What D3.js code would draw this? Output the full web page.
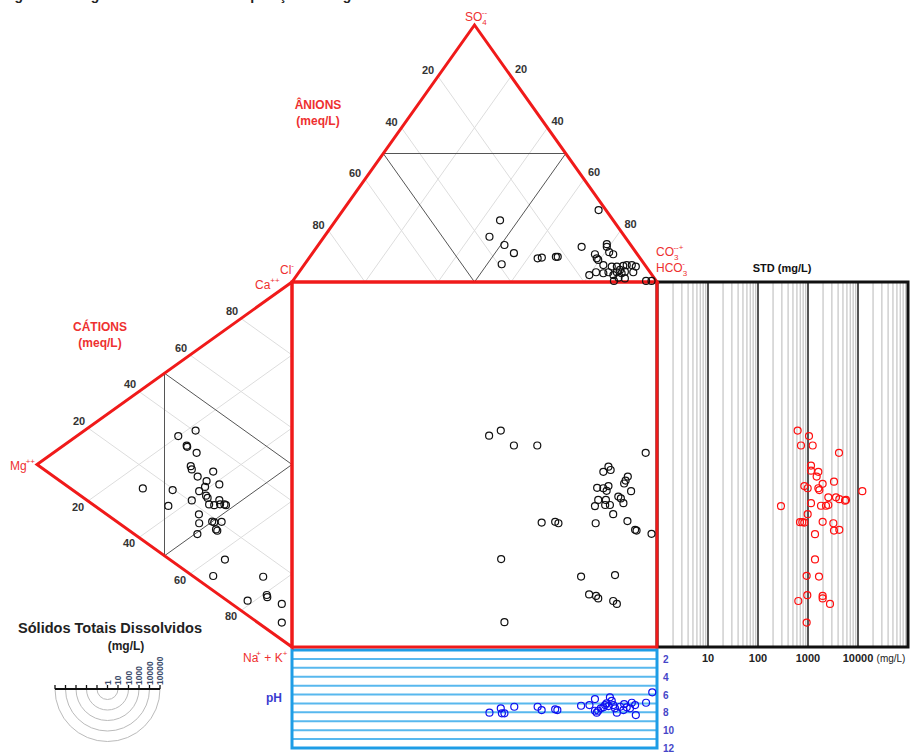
<!DOCTYPE html>
<html>
<head>
<meta charset="utf-8">
<script src="https://cdn.jsdelivr.net/npm/d3@7"></script>
<style>
  body { margin: 0; background: #fff; }
  svg  { display: block; font-family: "Liberation Sans", Arial, sans-serif; }
</style>
</head>
<body>
<svg id="chart" width="923" height="754"></svg>
<script>
/* ── DATA ───────────────────────────────────────────────────────────────────── */
const PCT_TICKS  = [20, 40, 60, 80];
const TDS_TICKS  = [10, 100, 1000, 10000];
const PH_TICKS   = [2, 4, 6, 8, 10, 12];
const PH_LINES   = [2, 3, 4, 5, 6, 7, 8, 9, 10, 11];
const LEGEND_TDS = [1, 10, 100, 1000, 10000, 100000];

// anion triangle: [SO4 %, HCO3 %]  (Cl = rest)
const anionPts = [
  [28,70],[24,45],[17.6,45.3],[14.4,51],[11.2,55.2],[6.9,54],[9.2,62.7],[9.5,63.7],
  [9.8,67.4],[9.8,67.9],[13.7,72.5],[14.7,78.9],[13.7,79.4],[11.6,81.1],[10.8,82.6],
  [10.8,77.6],[9.2,78.9],[8.6,79.6],[6.6,82],[6,84.6],[6,86],[6.3,87.6],[6.6,88.4],
  [6.6,89.8],[6,91.2],[4.7,87.5],[3.8,87.1],[3.4,88.6],[4,89.2],[3.8,91.6],[3.8,81.4],
  [2.7,80.1],[3.4,83.6],[3.8,84.8],[2.7,86.7],[1.7,88.6],[1.4,90.5],[0.4,88],
  [0.4,96.8],[0.4,98.3]
];

// cation triangle: [Mg %, Na+K %]  (Ca = rest)
const cationPts = [
  [37.8,21.8],[44.6,19.9],[41.3,24.2],[41.1,24.6],[37.4,28.1],[39.7,30.6],[39.3,31.7],
  [37,34.8],[30.9,36.5],[33.5,37.8],[34.1,39.1],[28.5,41.2],[36.4,39.1],[33.7,41.7],
  [33.1,42.6],[58.5,27.3],[46.8,33.6],[39.3,40.2],[48.5,37.1],[32.5,44.7],[30.5,45.9],
  [28.5,45.5],[28.2,46.8],[26.5,47.7],[25.9,48.2],[36.5,45.4],[36.4,47.9],[31.3,50],
  [30.5,50.6],[27.6,51.9],[29.3,53.5],[29.8,52.9],[37.1,50.5],[26.3,62.9],[30.9,65.1],
  [11.3,75.1],[17.4,78.6],[9.9,80.8],[9.7,81.5],[4,86.2],[4,91.3]
];

// central square: [anion axis %, cation axis %]
const squarePts = [
  [54,42.1],[57.2,40.7],[60.8,44.8],[67.2,44.8],[96.9,46.8],[86.7,50.6],[87.3,51.5],
  [85.3,52],[92,53.3],[91.4,54.4],[91,55.2],[92.9,57.3],[83.6,56.4],[85.3,56.5],
  [86.7,55.9],[86.2,57.2],[89.4,58.8],[90.1,59.3],[90.8,60.6],[83.9,59.7],[86,59.7],
  [83,61.4],[85.8,61.1],[87.1,61.1],[88,63.6],[68.4,65.9],[72.1,65.7],[73,66.1],
  [83.2,66.1],[91.9,65.5],[94,67.9],[94.4,68.1],[98.5,69],[57.3,75.9],[79.2,80.7],
  [88.5,80.3],[81.4,85.6],[83.3,86],[83.9,86.7],[88,87.4],[89,88.2],[58.2,93.2]
];

// STD panel: [cation axis %, STD mg/L]
const stdPts = [
  [40.7,621],[42.2,1047],[44.8,724],[44.8,1240],[46.8,4169],[50.3,1148],[51.7,1148],
  [52,1610],[53.3,1490],[54.7,3311],[55.3,1963],[55.9,845],[56.5,985],[56.5,1610],
  [57,1686],[57.3,12200],[59,2551],[59,3631],[59.5,4233],[59.9,5500],[59.7,5750],
  [61.4,288],[60.6,1148],[61.3,1820],[61.3,2290],[61.1,2551],[63.6,985],[65.8,692],
  [65.8,769],[65.9,845],[65.7,1963],[66.1,3213],[68.1,3311],[67.9,4233],[69.1,1380],
  [76,1380],[80.5,940],[80.7,1660],[87.4,640],[85.8,968],[86,1963],[86.7,1963],
  [88.2,2754],[93.3,940]
];

// pH panel: [anion axis %, pH]
const phPts = [
  [54.1,8.04],[57.2,7.55],[57.5,8.11],[58.2,8.11],[60.9,7.37],[67.3,7.37],[68.4,7.74],
  [72.1,7.66],[72.7,7.74],[79.2,7.26],[81.5,7.18],[83,6.51],[83.5,8.04],[83.9,7.82],
  [84.6,7.55],[85.8,7.18],[87.1,6.31],[87.6,6.7],[86.2,6.99],[88,7.18],[89,8.04],
  [89.9,7.37],[91,7.07],[91.7,7.44],[93.1,6.92],[94,7.18],[94.2,8.3],[97,6.92],
  [98.7,5.75],[85.3,7.44],[86.7,7.29],[88.5,7.55],[90.8,7.74],[83,7.82],[92.6,7.55]
];

/* ── CONSTANTS ──────────────────────────────────────────────────────────────── */
const RED      = '#f01a1a';
const RED_TXT  = '#ee3030';
const BLUE     = '#1e9de6';
const GRID     = '#dddddd';
const INNER    = '#555555';

/* ── SCALES ─────────────────────────────────────────────────────────────────── */
const ax    = d3.scaleLinear([0, 100], [292, 657]);   // anion axis (square x)
const so4Y  = d3.scaleLinear([0, 100], [282, 25]);    // SO4 height
const cy    = d3.scaleLinear([0, 100], [282, 647]);   // cation axis (square y)
const mgX   = d3.scaleLinear([0, 100], [292, 37]);    // Mg depth
const tdsX  = d3.scaleLog([1, 100000], [658, 908]);
const phY   = d3.scaleLinear([1, 12], [650, 748]);
const legR  = d3.scaleLog([1, 100000], [0, 52.5]);

function anionXY(so4, hco3) { return [ax(hco3 + so4 / 2), so4Y(so4)]; }
function cationXY(mg, na)   { return [mgX(mg), cy(na + mg / 2)]; }

const svg = d3.select('#chart');
const line = d3.line();

/* ── HELPERS ────────────────────────────────────────────────────────────────── */
function ionText(x, y, parts, opts = {}) {
  const t = svg.append('text')
    .attr('x', x).attr('y', y)
    .attr('fill', opts.fill || RED_TXT)
    .attr('font-size', opts.size || 12);
  let cur = 0;
  parts.forEach(([s, kind, dx]) => {
    const shift = kind === 'sub' ? 4 : kind === 'sup' ? -6 : 0;
    t.append('tspan')
      .attr('dy', shift - cur)
      .attr('dx', dx || 0)
      .attr('font-size', kind === 'n' ? (opts.size || 12) : 8)
      .text(s);
    cur = shift;
  });
  return t;
}

function tickLabel(x, y, txt) {
  svg.append('text')
    .attr('x', x).attr('y', y)
    .attr('text-anchor', 'middle').attr('dominant-baseline', 'middle')
    .attr('font-size', 11).attr('font-weight', 'bold').attr('fill', '#333')
    .text(txt);
}

function circles(data, xy, color) {
  svg.append('g').selectAll('circle')
    .data(data)
    .join('circle')
    .attr('cx', d => xy(d)[0])
    .attr('cy', d => xy(d)[1])
    .attr('r', 3.5)
    .attr('fill', 'none')
    .attr('stroke', color)
    .attr('stroke-width', 1.2);
}

/* ── CUT-OFF CAPTION (only descenders show in the reference) ────────────────── */
svg.append('text').attr('x', 2).attr('y', 0)
  .attr('font-size', 14).attr('font-weight', 'bold').attr('fill', '#222')
  .text('Figura 4 - Diagrama de Durov da composição das águas');

/* ── STD PANEL ──────────────────────────────────────────────────────────────── */
const stdG = svg.append('g');
d3.range(0, 5).forEach(dec => {
  d3.range(1, 10).forEach(k => {
    const v = k * Math.pow(10, dec);
    const major = k === 1 && dec > 0;
    stdG.append('line')
      .attr('x1', tdsX(v)).attr('x2', tdsX(v))
      .attr('y1', cy(0)).attr('y2', cy(100))
      .attr('stroke', major ? '#555' : '#c8c8c8')
      .attr('stroke-width', major ? 2 : 1.3);
  });
});
stdG.append('rect')
  .attr('x', 657).attr('y', cy(0))
  .attr('width', tdsX(100000) - 657).attr('height', cy(100) - cy(0))
  .attr('fill', 'none').attr('stroke', '#111').attr('stroke-width', 3);
stdG.selectAll('text.tds')
  .data(TDS_TICKS)
  .join('text')
  .attr('x', d => tdsX(d)).attr('y', 662)
  .attr('text-anchor', 'middle').attr('font-size', 11).attr('font-weight', 'bold')
  .attr('fill', '#222').text(d => d);
stdG.append('text').attr('x', 891).attr('y', 662).attr('text-anchor', 'middle')
  .attr('font-size', 10).attr('fill', '#222').text('(mg/L)');
stdG.append('text').attr('x', 782).attr('y', 272).attr('text-anchor', 'middle')
  .attr('font-size', 11).attr('font-weight', 'bold').attr('fill', '#111').text('STD (mg/L)');

/* ── pH PANEL ───────────────────────────────────────────────────────────────── */
const phG = svg.append('g');
phG.selectAll('line')
  .data(PH_LINES)
  .join('line')
  .attr('x1', ax(0)).attr('x2', ax(100))
  .attr('y1', d => phY(d)).attr('y2', d => phY(d))
  .attr('stroke', '#58b8ee').attr('stroke-width', 2);
phG.append('rect')
  .attr('x', ax(0)).attr('y', phY(1))
  .attr('width', ax(100) - ax(0)).attr('height', phY(12) - phY(1))
  .attr('fill', 'none').attr('stroke', BLUE).attr('stroke-width', 3);
phG.selectAll('text')
  .data(PH_TICKS)
  .join('text')
  .attr('x', 663).attr('y', d => phY(d) + 4)
  .attr('font-size', 10).attr('font-weight', 'bold').attr('fill', '#4646c8')
  .text(d => d);
svg.append('text').attr('x', 266).attr('y', 702)
  .attr('font-size', 12).attr('font-weight', 'bold').attr('fill', '#3a3ad0').text('pH');

/* ── ANION TRIANGLE ─────────────────────────────────────────────────────────── */
PCT_TICKS.forEach(c => {
  svg.append('path').attr('d', line([anionXY(100 - c, 0), anionXY(0, 100 - c)]))
    .attr('stroke', GRID).attr('fill', 'none');
  svg.append('path').attr('d', line([anionXY(100 - c, c), anionXY(0, c)]))
    .attr('stroke', GRID).attr('fill', 'none');
  const [lx, ly] = anionXY(100 - c, 0);
  tickLabel(lx - 10, ly - 5, c);
  const [rx, ry] = anionXY(100 - c, c);
  tickLabel(rx + 10, ry - 6, c);
});
svg.append('path')
  .attr('d', line([anionXY(50, 0), anionXY(50, 50), anionXY(0, 50)]) + 'Z')
  .attr('fill', 'none').attr('stroke', INNER).attr('stroke-width', 1);

/* ── CATION TRIANGLE ────────────────────────────────────────────────────────── */
PCT_TICKS.forEach(c => {
  svg.append('path').attr('d', line([cationXY(100 - c, 0), cationXY(0, 100 - c)]))
    .attr('stroke', GRID).attr('fill', 'none');
  svg.append('path').attr('d', line([cationXY(100 - c, c), cationXY(0, c)]))
    .attr('stroke', GRID).attr('fill', 'none');
  const [ux, uy] = cationXY(100 - c, 0);
  tickLabel(ux - 9, uy - 6, c);
  const [bx, by] = cationXY(100 - c, c);
  tickLabel(bx - 10, by + 7, c);
});
svg.append('path')
  .attr('d', line([cationXY(50, 0), cationXY(50, 50), cationXY(0, 50)]) + 'Z')
  .attr('fill', 'none').attr('stroke', INNER).attr('stroke-width', 1);

/* ── RED OUTLINES ───────────────────────────────────────────────────────────── */
svg.append('path')
  .attr('d', line([anionXY(0, 0), anionXY(100, 0), anionXY(0, 100)]) + 'Z')
  .attr('fill', 'none').attr('stroke', RED).attr('stroke-width', 3).attr('stroke-linejoin', 'miter');
svg.append('path')
  .attr('d', line([cationXY(0, 0), cationXY(100, 0), cationXY(0, 100)]) + 'Z')
  .attr('fill', 'none').attr('stroke', RED).attr('stroke-width', 3).attr('stroke-linejoin', 'miter');
svg.append('rect')
  .attr('x', ax(0)).attr('y', cy(0))
  .attr('width', ax(100) - ax(0)).attr('height', cy(100) - cy(0))
  .attr('fill', 'none').attr('stroke', RED).attr('stroke-width', 3);

/* ── POINTS ─────────────────────────────────────────────────────────────────── */
circles(anionPts,  d => anionXY(d[0], d[1]), '#111');
circles(cationPts, d => cationXY(d[0], d[1]), '#111');
circles(squarePts, d => [ax(d[0]), cy(d[1])], '#111');
circles(stdPts,    d => [tdsX(d[1]), cy(d[0])], '#ff1010');
circles(phPts,     d => [ax(d[0]), phY(d[1])], '#1010f0');

/* ── ION LABELS ─────────────────────────────────────────────────────────────── */
ionText(465, 21, [['SO', 'n'], ['4', 'sub'], ['--', 'sup', -5]]);
ionText(280, 274, [['Cl', 'n'], ['-', 'sup']]);
ionText(255, 289, [['Ca', 'n'], ['++', 'sup']]);
ionText(656, 256, [['CO', 'n'], ['3', 'sub'], ['--', 'sup', -5], ['+', 'sup']]);
ionText(656, 272, [['HCO', 'n'], ['3', 'sub'], ['-', 'sup', -5]]);
ionText(10, 470, [['Mg', 'n'], ['++', 'sup', -1]]);
ionText(243, 662, [['Na', 'n'], ['+', 'sup', -2], [' + K', 'n'], ['+', 'sup']]);

[['ÂNIONS', 318, 109], ['(meq/L)', 318, 125], ['CÁTIONS', 100, 331], ['(meq/L)', 100, 347]]
  .forEach(([s, x, y]) => {
    svg.append('text').attr('x', x).attr('y', y).attr('text-anchor', 'middle')
      .attr('font-size', 12).attr('font-weight', 'bold').attr('fill', RED_TXT).text(s);
  });

/* ── TDS LEGEND ─────────────────────────────────────────────────────────────── */
const lcx = 107.5, lcy = 689;
const legG = svg.append('g');
legG.append('text').attr('x', 110).attr('y', 633).attr('text-anchor', 'middle')
  .attr('font-size', 14.5).attr('font-weight', 'bold').attr('fill', '#222')
  .attr('textLength', 184).attr('lengthAdjust', 'spacingAndGlyphs')
  .text('Sólidos Totais Dissolvidos');
legG.append('text').attr('x', 126).attr('y', 650).attr('text-anchor', 'middle')
  .attr('font-size', 12).attr('font-weight', 'bold').attr('fill', '#222').text('(mg/L)');
legG.selectAll('path.arc')
  .data(LEGEND_TDS.slice(1))
  .join('path')
  .attr('d', d => {
    const r = legR(d);
    return `M${lcx - r},${lcy} A${r},${r} 0 0 0 ${lcx + r},${lcy}`;
  })
  .attr('fill', 'none').attr('stroke', '#bbb').attr('stroke-width', 1);
legG.append('line')
  .attr('x1', lcx - legR(100000)).attr('x2', lcx + legR(100000))
  .attr('y1', lcy).attr('y2', lcy)
  .attr('stroke', '#111').attr('stroke-width', 2);
legG.selectAll('line.tk')
  .data(d3.range(-5, 6))
  .join('line')
  .attr('x1', d => lcx + d * legR(10)).attr('x2', d => lcx + d * legR(10))
  .attr('y1', lcy).attr('y2', lcy - 4)
  .attr('stroke', '#111').attr('stroke-width', 1.3);
legG.selectAll('text.lab')
  .data(LEGEND_TDS)
  .join('text')
  .attr('transform', d => `translate(${lcx + legR(d) + 3},${lcy - 4}) rotate(-90)`)
  .attr('font-size', 8.5).attr('font-weight', 'bold').attr('fill', '#3a4a6a')
  .text(d => d);
</script>
</body>
</html>
